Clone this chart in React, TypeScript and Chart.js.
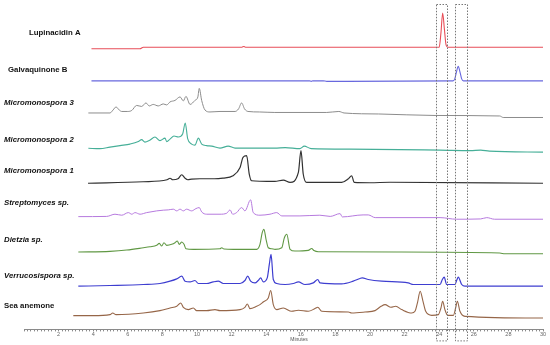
import { useEffect, useRef } from "react";
import { Chart, registerables } from "chart.js";

Chart.register(...registerables);

// ---------- data ----------
const seriesNames = [
  "Lupinacidin A",
  "Galvaquinone B",
  "Micromonospora 3",
  "Micromonospora 2",
  "Micromonospora 1",
  "Streptomyces sp.",
  "Dietzia sp.",
  "Verrucosispora sp.",
  "Sea anemone",
];
const italicNames = [false, false, true, true, true, true, true, true, false];
// vertical stacking offset of each trace (same units as the signal)
const baselineOffsets = [281, 247.5, 215.5, 180, 146, 112.5, 77.5, 44, 14];

const lupinacidinT = [3.9, 6.7, 6.9, 12.6, 12.7, 12.8, 24.0, 24.1, 24.2, 24.3, 24.4, 24.5, 30];
const lupinacidinY = [-1.5, -1.5, 0, 0, 0.7, 0, 0, 14, 34, 18, 2, 0, 0];

const galvaquinoneT = [3.9, 16.5, 16.6, 16.7, 17.3, 17.5, 24.8, 24.9, 25.0, 25.1, 25.2, 25.3, 25.4, 30];
const galvaquinoneY = [0, 0, -0.5, 0, 0, -0.5, 0, 2, 9, 14.5, 9, 2, 0, 0];

const micro3T = [3.72, 4.97, 5.15, 5.32, 5.5, 5.65, 6.0, 6.23, 6.51, 6.8, 7.05, 7.24, 7.47, 7.76, 8.05, 8.25, 8.44, 8.73, 9.02, 9.21, 9.36, 9.6, 9.88, 10.05, 10.13, 10.27, 10.46, 10.75, 11.33, 12.2, 12.4, 12.58, 12.75, 12.95, 13.6, 14.5, 17.5, 18.2, 18.5, 20.5, 23.76, 27.5, 27.7, 30];
const micro3Y = [0, 0, 3, 6, 3, 1.5, 1.5, 2.5, 7.5, 6.5, 10, 7, 8.5, 7, 9, 8, 11, 12.5, 16, 12, 16.5, 8.5, 12.5, 16, 24.5, 12.5, 3, 1, 1.5, 1.5, 4, 10, 4, 1.5, 1, 0.5, 0.5, 1.5, 0, -1, -2.5, -3, -4.5, -4.5];

const micro2T = [3.72, 4.39, 4.97, 5.55, 6.13, 6.61, 6.8, 6.99, 7.24, 7.57, 7.86, 8.15, 8.25, 8.44, 8.67, 8.92, 9.17, 9.32, 9.46, 9.69, 9.88, 10.08, 10.27, 10.56, 10.85, 11.33, 11.8, 12.2, 14.5, 15.1, 15.95, 16.2, 16.6, 18.8, 24.05, 25.8, 26.4, 26.9, 30];
const micro2Y = [0.3, 0, 1.5, 3, 4.5, 7, 9, 6.5, 8, 11.5, 8, 10.5, 7, 9.5, 12.5, 11.5, 14.5, 25.5, 10, 4.5, 3.5, 10.5, 4.5, 3, 2.5, 0.5, 2.5, 0.5, 0.5, 1, 0, 2.5, 0, -0.5, -1.5, -2, -1.5, -2.5, -3.5];

const micro1T = [3.7, 6.88, 8.27, 8.44, 8.6, 8.9, 9.12, 9.31, 9.47, 9.69, 10.17, 11.0, 11.5, 12.08, 12.49, 12.66, 12.87, 13.02, 13.16, 13.64, 14.5, 14.99, 15.38, 15.86, 16.01, 16.14, 16.34, 18.36, 18.73, 18.94, 19.09, 20.0, 21.16, 30];
const micro1Y = [-0.5, 1, 3, 4.5, 3, 4, 8, 4.5, 3, 3.7, 4, 4, 4.7, 7, 15.3, 25.3, 27, 8.7, 2, 1.5, 1.3, 2.7, 0.3, 10.3, 32, 8.7, 0.3, 0.3, 3.7, 7, 0.3, 0, 0.5, -0.5];

const streptoT = [3.14, 4.78, 5.26, 5.65, 6.03, 6.23, 6.42, 6.71, 7.09, 7.67, 8.05, 8.34, 8.63, 8.83, 9.02, 9.21, 9.4, 9.69, 9.94, 10.13, 10.27, 10.56, 11.33, 11.72, 11.91, 12.06, 12.29, 12.58, 12.77, 13.1, 13.25, 13.64, 14.22, 14.61, 14.9, 15.95, 17.1, 17.7, 18.27, 18.4, 19.6, 19.9, 20.3, 24.05, 25.0, 26.4, 26.75, 27.2, 30];
const streptoY = [-0.2, 0, 2.2, 1.2, 3.8, 2.2, 3.8, 2.2, 3.8, 5.5, 6.2, 6.5, 7.2, 5.5, 7.2, 5.5, 7.2, 5.5, 7.8, 8.8, 4.5, 2.2, 2.2, 3.2, 6.5, 2.2, 3.8, 8.8, 5.5, 16.5, 3.8, 1.2, 2.2, 3.8, 0.5, 0.5, 1.2, 0, 2.8, -0.5, 1.5, 1.5, -1.2, -1.2, -2.8, -2.5, -1.2, -2.8, -2.8];

const dietziaT = [3.14, 4.97, 5.94, 6.9, 7.28, 7.67, 7.82, 7.96, 8.09, 8.25, 8.54, 8.73, 8.86, 8.98, 9.12, 9.25, 9.36, 9.79, 11.33, 11.43, 11.56, 12.1, 13.45, 13.64, 13.77, 13.87, 13.99, 14.12, 14.32, 14.51, 14.9, 15.05, 15.19, 15.38, 15.66, 16.43, 16.63, 16.76, 17.01, 21.73, 27.5, 27.8, 30];
const dietziaY = [-0.5, 0.2, 1.5, 3.8, 4.8, 6.2, 8.2, 5.5, 8.8, 6.2, 7.2, 8.8, 10.5, 7.2, 9.5, 7.2, 2.8, 2.2, 2.8, 3.8, 2.5, 2.2, 2.2, 7.2, 18.8, 22.2, 12.2, 3.8, 2.8, 2.2, 3.8, 13.8, 17.2, 2.2, 0.5, 1.2, 3, 1, -0.2, -0.5, -1.5, -2.2, -2.2];

const verrucoT = [3.14, 4.97, 6.9, 7.86, 8.44, 8.83, 9.12, 9.31, 9.6, 9.88, 10.08, 10.56, 10.94, 11.23, 11.52, 12.49, 12.77, 12.93, 13.1, 13.35, 13.54, 13.68, 13.83, 14.06, 14.18, 14.28, 14.41, 14.61, 15.09, 15.57, 15.86, 16.24, 16.72, 16.98, 17.11, 18.36, 19.03, 19.42, 19.55, 19.9, 20.68, 22.21, 22.5, 24.05, 24.18, 24.29, 24.43, 24.91, 25.03, 25.1, 25.3, 25.49, 30];
const verrucoY = [-1, -0.3, 0.7, 1.7, 4, 6.3, 9, 4, 3.3, 4.7, 1.7, 1.7, 3.3, 4, 1.7, 1.7, 4.7, 9, 4, 2.3, 4.7, 7.3, 3.3, 7.3, 20.7, 30.7, 5.7, 1.7, 0.7, 1.7, 3.3, 0.7, 2.3, 5.7, 2.3, 1.3, 4, 6.7, 7.3, 5.7, 4, 2.3, 0.7, 0.7, 5.7, 8, 0.7, 0.7, 5.7, 8, 0.7, -1, -1];

const anemoneT = [2.85, 4.0, 4.97, 5.13, 5.32, 6.9, 7.86, 8.44, 8.83, 9.06, 9.21, 9.5, 9.79, 9.98, 10.56, 11.04, 11.33, 12.49, 12.77, 12.91, 13.06, 13.45, 13.64, 13.83, 14.12, 14.26, 14.41, 14.61, 14.99, 15.47, 15.86, 16.43, 16.82, 16.98, 17.21, 18.75, 18.94, 19.71, 20.29, 20.64, 20.87, 21.21, 21.49, 21.83, 22.41, 22.6, 22.75, 22.9, 23.05, 23.22, 23.57, 23.95, 24.1, 24.2, 24.33, 24.49, 24.82, 24.95, 25.05, 25.2, 25.49, 30];
const anemoneY = [-0.3, -0.3, 0.7, 2.3, 0.7, 2.3, 4.7, 7.3, 9, 12.3, 8, 5.7, 7.3, 4.7, 4.7, 5.7, 4.7, 5.7, 8, 11.3, 6.7, 9, 10.7, 13.3, 17.3, 24.7, 10.7, 5.7, 7.3, 4, 5, 4, 6.7, 8, 4, 3.3, 2.3, 3.3, 4.7, 9, 10.7, 8, 9, 5.7, 2.3, 4, 13, 24, 15, 4, 0, 0.7, 7.3, 14, 5.7, 0, 0, 7.3, 14, 4, -1, -2.7];

const seriesTimes = [lupinacidinT, galvaquinoneT, micro3T, micro2T, micro1T, streptoT, dietziaT, verrucoT, anemoneT];
const seriesSignals = [lupinacidinY, galvaquinoneY, micro3Y, micro2Y, micro1Y, streptoY, dietziaY, verrucoY, anemoneY];

// highlighted retention windows (minutes)
const boxStarts = [23.82, 24.91];
const boxEnds = [24.43, 25.59];

const xMin = 0;
const xMax = 30;
const xTickStep = 0.2;
const xLabelEvery = 2;
const xTitle = "Minutes";
const xTitleAt = 15.9;

// ---------- styles / layout ----------
const seriesColors = [
  "rgb(232,78,88)",
  "rgb(104,104,222)",
  "rgb(140,140,140)",
  "rgb(70,175,152)",
  "rgb(50,50,50)",
  "rgb(182,122,222)",
  "rgb(96,152,68)",
  "rgb(62,62,208)",
  "rgb(150,102,72)",
];
const seriesWidths = [1.1, 1.1, 1, 1.1, 1.2, 1, 1.1, 1.2, 1.1];
const labelX = [29, 8, 4, 4, 4, 4, 4, 4, 4];
const labelY = [32.5, 70, 103, 139.5, 170.5, 203, 240, 276, 306];

export default function App() {
  const ref = useRef<HTMLCanvasElement | null>(null);

  useEffect(() => {
    if (!ref.current) return;

    const datasets = seriesNames.map((name, i) => ({
      label: name,
      data: seriesTimes[i].map((t, k) => ({ x: t, y: seriesSignals[i][k] + baselineOffsets[i] })),
      borderColor: seriesColors[i],
      borderWidth: seriesWidths[i],
      pointRadius: 0,
      fill: false,
      cubicInterpolationMode: "monotone" as const,
    }));

    const decor = {
      id: "decor",
      afterDraw(chart: any) {
        const { ctx, chartArea, scales } = chart;
        const xs = scales.x;
        ctx.save();
        // sample labels
        seriesNames.forEach((name, i) => {
          ctx.font = `${italicNames[i] ? "italic " : ""}bold 7.8px "Liberation Sans", Arial, sans-serif`;
          ctx.fillStyle = "#111";
          ctx.textAlign = "left";
          ctx.textBaseline = "middle";
          ctx.fillText(name, labelX[i], labelY[i]);
        });
        // dotted boxes
        ctx.strokeStyle = "#777";
        ctx.lineWidth = 1;
        ctx.setLineDash([1.5, 1.5]);
        boxStarts.forEach((s, i) => {
          const x1 = Math.round(xs.getPixelForValue(s)) + 0.5;
          const x2 = Math.round(xs.getPixelForValue(boxEnds[i])) + 0.5;
          const y1 = chartArea.top + 0.5;
          const y2 = chartArea.bottom + 11.5;
          ctx.strokeRect(x1, y1, x2 - x1, y2 - y1);
        });
        ctx.setLineDash([]);
        // axis title
        ctx.font = `5px "Liberation Sans", Arial, sans-serif`;
        ctx.fillStyle = "#555";
        ctx.textAlign = "center";
        ctx.textBaseline = "middle";
        ctx.fillText(xTitle, xs.getPixelForValue(xTitleAt), chartArea.bottom + 10);
        ctx.restore();
      },
    };

    const chart = new Chart(ref.current, {
      type: "line",
      data: { datasets },
      options: {
        animation: false,
        responsive: false,
        parsing: true,
        layout: { padding: { left: 24, right: 7, top: 4, bottom: 7 } },
        plugins: { legend: { display: false }, tooltip: { enabled: false } },
        scales: {
          x: {
            type: "linear",
            min: xMin,
            max: xMax,
            border: { color: "#8a8a8a", width: 1 },
            grid: { drawOnChartArea: false, drawTicks: true, tickLength: 2, color: "#8a8a8a" },
            ticks: {
              stepSize: xTickStep,
              autoSkip: false,
              maxRotation: 0,
              padding: 0,
              color: "#666",
              font: { size: 5.5, family: '"Liberation Sans", Arial, sans-serif' },
              callback: (v: any) => {
                const n = Number(v);
                const r = Math.round(n);
                if (Math.abs(n - r) < 1e-6 && r > 0 && r % xLabelEvery === 0) return String(r);
                return "";
              },
            },
          },
          y: { display: false, min: 0, max: 324 },
        },
      },
      plugins: [decor],
    });
    return () => chart.destroy();
  }, []);

  return (
    <div style={{ position: "fixed", left: 0, top: 0, width: 550, height: 345, background: "#fff" }}>
      <canvas ref={ref} width={550} height={345} style={{ display: "block" }} />
    </div>
  );
}
